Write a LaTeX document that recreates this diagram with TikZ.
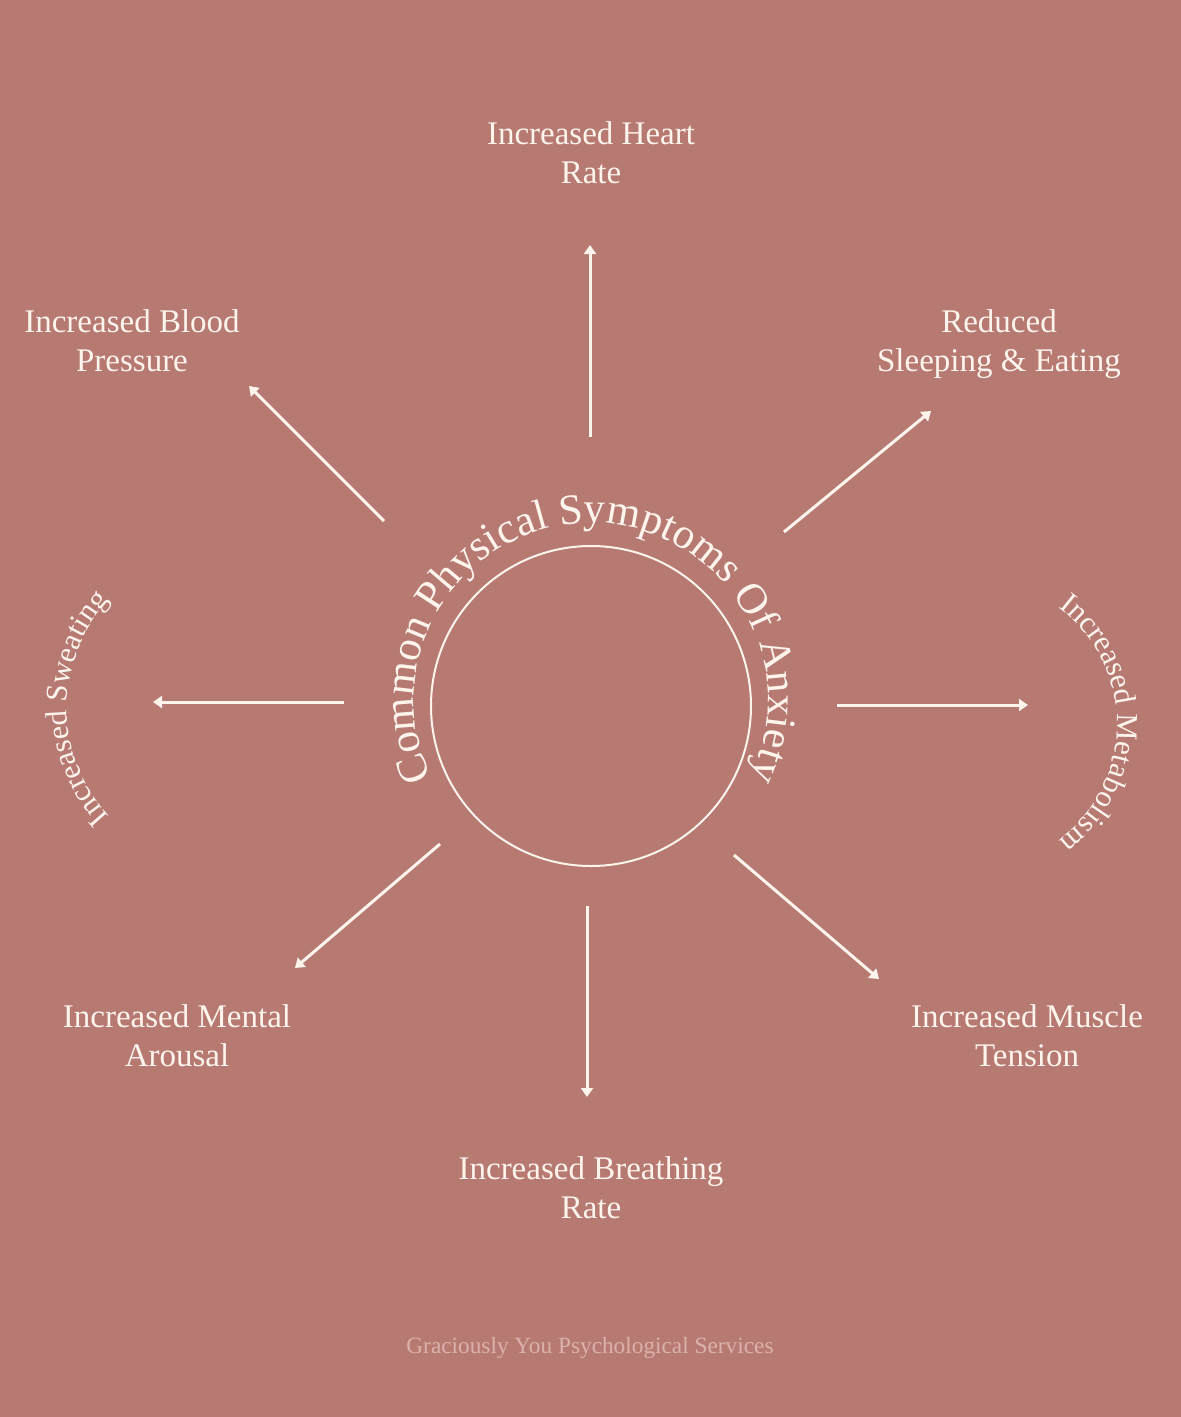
\documentclass[tikz,border=0pt]{standalone}
\usepackage{fontspec}
\setmainfont{Liberation Serif}
\usetikzlibrary{arrows.meta,decorations.text}
\definecolor{bg}{HTML}{B77A72}
\definecolor{fg}{HTML}{FDF4EC}
\definecolor{foot}{HTML}{DBB2AB}
\newcommand\ttlfont{\fontsize{43}{43}\selectfont}
\newcommand\sidefont{\fontsize{30.5}{30.5}\selectfont}
\begin{document}
\begin{tikzpicture}[x=1pt,y=1pt,
  arr/.style={color=fg, line width=3pt, -{Triangle[width=12pt,length=9pt,fill=fg]}},
  lbl/.style={text=fg, font=\fontsize{33}{39}\selectfont, anchor=base, inner sep=0pt},
  curvetext/.style={decorate, decoration={text along path, text align=center, text color=fg, text={#1}}}]
\useasboundingbox (0,0) rectangle (1181,-1417);
\fill[bg] (0,0) rectangle (1181,-1417);

% central circle
\node[circle, draw=fg, line width=2pt, minimum size=320pt, inner sep=0pt] (core) at (591,-706) {};

% curved title
\path[curvetext={|\ttlfont|Common Physical Symptoms Of Anxiety}]
  (591,-700) ++(240:177) arc[start angle=240, end angle=-60, radius=177];

% curved side labels
\path[curvetext={|\sidefont|Increased Sweating}]
  (225,-708) ++(260:158) arc[start angle=260, end angle=100, radius=158];
\path[curvetext={|\sidefont|Increased Metabolism}]
  (972,-724) ++(80:145) arc[start angle=80, end angle=-80, radius=145];

% labels
\node[lbl] (heartA) at (591,-144) {Increased Heart};
\node[lbl] (heartB) at (591,-183) {Rate};
\node[lbl] (bloodA) at (132,-332) {Increased Blood};
\node[lbl] (bloodB) at (132,-371) {Pressure};
\node[lbl] (sleepA) at (999,-332) {Reduced};
\node[lbl] (sleepB) at (999,-371) {Sleeping \& Eating};
\node[lbl] (mentalA) at (177,-1027) {Increased Mental};
\node[lbl] (mentalB) at (177,-1066) {Arousal};
\node[lbl] (breathA) at (591,-1179) {Increased Breathing};
\node[lbl] (breathB) at (591,-1218) {Rate};
\node[lbl] (muscleA) at (1027,-1027) {Increased Muscle};
\node[lbl] (muscleB) at (1027,-1066) {Tension};

\node[text=foot, font=\fontsize{23.3}{23.3}\selectfont, anchor=base, inner sep=0pt] (footer) at (590,-1353) {Graciously You Psychological Services};

% arrow end points
\coordinate (tS) at (590,-437);  \coordinate (tE) at (590,-245);
\coordinate (urS) at (784,-532); \coordinate (urE) at (931,-411);
\coordinate (rS) at (837,-705);  \coordinate (rE) at (1028,-705);
\coordinate (lrS) at (734,-855); \coordinate (lrE) at (879,-979);
\coordinate (bS) at (587,-906);  \coordinate (bE) at (587,-1097);
\coordinate (llS) at (440,-844); \coordinate (llE) at (295,-968);
\coordinate (lS) at (344,-702);  \coordinate (lE) at (153,-702);
\coordinate (ulS) at (384,-521); \coordinate (ulE) at (249,-386);

\draw[arr] (tS) -- (tE);
\draw[arr] (urS) -- (urE);
\draw[arr] (rS) -- (rE);
\draw[arr] (lrS) -- (lrE);
\draw[arr] (bS) -- (bE);
\draw[arr] (llS) -- (llE);
\draw[arr] (lS) -- (lE);
\draw[arr] (ulS) -- (ulE);
\end{tikzpicture}
\end{document}
